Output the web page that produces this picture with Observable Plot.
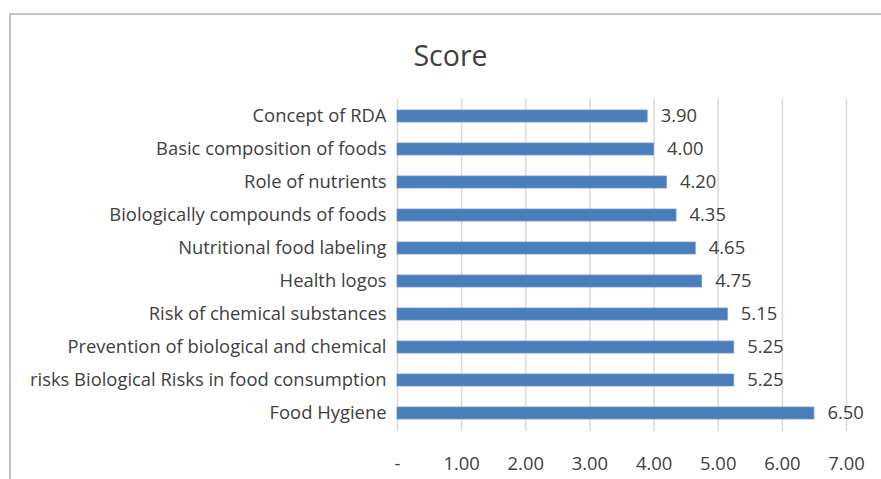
<!DOCTYPE html>
<html>
<head>
<meta charset="utf-8">
<script src="https://cdn.jsdelivr.net/npm/d3@7"></script>
<script src="https://cdn.jsdelivr.net/npm/@observablehq/plot@0.6"></script>
<style>
  html, body { margin: 0; padding: 0; background: #fff; }
  #wrap { position: relative; width: 881px; height: 479px; overflow: hidden; font-family: "Open Sans", sans-serif; }
  #frame { position: absolute; left: 9px; top: 13px; right: -10px; bottom: -10px; border-top: 2px solid #c4c4c4; border-left: 2px solid #c4c4c4; pointer-events: none; }
  #title { position: absolute; left: 0; width: 901px; top: 36px; text-align: center; font-size: 28.5px; color: #404040; }
  #chart { position: absolute; left: 0; top: 0; }
</style>
</head>
<body>
<div id="wrap">
  <div id="chart"></div>
  <div id="frame"></div>
  <div id="title">Score</div>
</div>
<script>
const categories = [
  "Concept of RDA",
  "Basic composition of foods",
  "Role of nutrients",
  "Biologically compounds of foods",
  "Nutritional food labeling",
  "Health logos",
  "Risk of chemical substances",
  "Prevention of biological and chemical",
  "risks Biological Risks in food consumption",
  "Food Hygiene"
];
const scores = [3.90, 4.00, 4.20, 4.35, 4.65, 4.75, 5.15, 5.25, 5.25, 6.50];
const xTicks = [0, 1, 2, 3, 4, 5, 6, 7];
const xTickLabels = ["-", "1.00", "2.00", "3.00", "4.00", "5.00", "6.00", "7.00"];

const data = categories.map((c, i) => ({category: c, score: scores[i]}));

const chart = Plot.plot({
  width: 881,
  height: 479,
  marginLeft: 397,
  marginRight: 35,
  marginTop: 98,
  marginBottom: 48,
  style: {fontFamily: "'Open Sans', sans-serif", fontSize: "18.4px", color: "#404040", background: "transparent"},
  x: {domain: [0, 7], ticks: xTicks, tickFormat: (d) => xTickLabels[xTicks.indexOf(d)], tickSize: 0, tickPadding: 25, label: null},
  y: {domain: categories, paddingInner: 0.64, paddingOuter: 0.33, align: 0.5, tickSize: 0, tickPadding: 11, label: null},
  marks: [
    Plot.ruleX(xTicks, {stroke: "#d9d9d9", strokeWidth: 1.5}),
    Plot.barX(data, {x: "score", y: "category", fill: "#4a7ebb", stroke: "#6d97c9", strokeWidth: 0.8}),
    Plot.text(data, {x: "score", y: "category", text: d => d.score.toFixed(2), textAnchor: "start", dx: 13, fontSize: 18.4, fill: "#404040"})
  ]
});
document.getElementById("chart").appendChild(chart);
</script>
</body>
</html>
